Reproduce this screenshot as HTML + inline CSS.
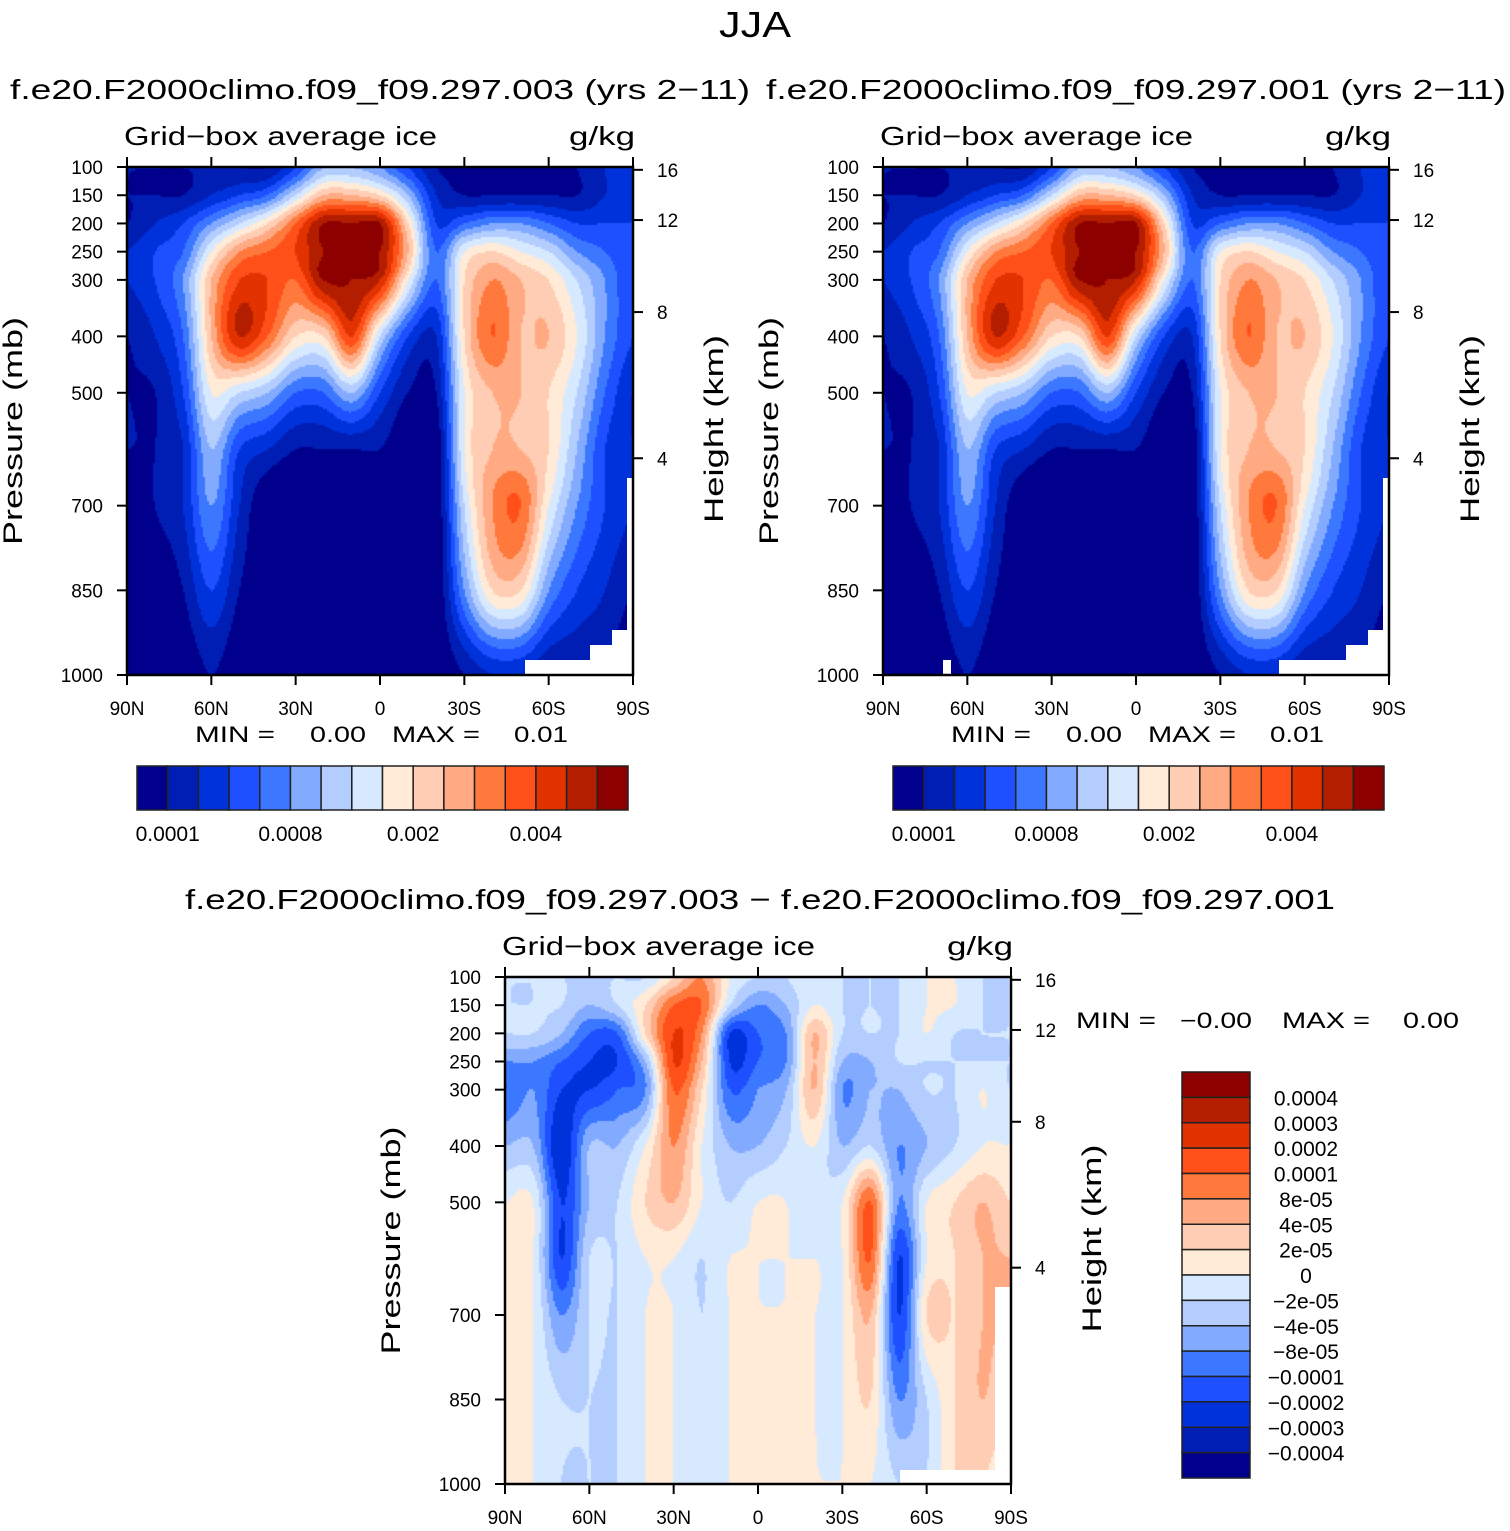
<!DOCTYPE html>
<html><head><meta charset="utf-8">
<style>
html,body{margin:0;padding:0;background:#fff;}
#wrap{position:relative;width:1510px;height:1531px;overflow:hidden;}
canvas{position:absolute;}
svg{position:absolute;left:0;top:0;}
text{font-family:"Liberation Sans","DejaVu Sans",sans-serif;fill:#000;}
</style></head>
<body>
<div id="wrap">
<canvas id="c1" width="506" height="508" style="left:127px;top:167px"></canvas>
<canvas id="c2" width="506" height="508" style="left:883px;top:167px"></canvas>
<canvas id="c3" width="506" height="507" style="left:505px;top:977px"></canvas>
<svg id="s" width="1510" height="1531"></svg>
</div>
<script>
const lats=[90,80,70,60,50,40,30,20,10,0,-10,-20,-30,-40,-50,-60,-70,-80,-90];
const pres=[100,150,200,250,300,400,500,600,700,850,1000];
const field003=[
[1,1,1,1,1,1,3,6,6,5,3,1,1,1,1,1,1,2,3],
[1,1,1,2,3,4,7,10,10,9,6,2,1,1,1,1,1,2,3],
[1,2,3,5,7,9,12,15,15,15,9,3,4,5,5,4,3,3,3],
[2,3,4,8,11,12,13,15,15,15,10,4,8,9,8,7,5,4,3],
[2,3,5,10,13,13,12,15,15,14,8,4,9,11,10,9,7,5,3],
[1,2,4,10,14,12,9,9,13,7,3,2,9,12,10,10,8,5,3],
[1,1,3,8,7,6,4,4,6,3,1,1,8,10,10,9,7,4,2],
[1,1,2,6,3,2,1,1,1,1,0,0,8,10,10,9,6,3,2],
[0,1,2,5,2,0,0,0,0,0,0,0,7,11,12,8,5,3,2],
[0,0,1,3,1,0,0,0,0,0,0,0,5,9,9,5,3,2,1],
[0,0,0,1,0,0,0,0,0,0,0,0,1,2,2,1,1,1,0]];
const field001=[
[1,1,1,1,1,1,3,6,6,5,3,1,1,1,1,1,1,2,3],
[1,1,1,2,3,4,7,10,10,9,6,2,1,1,1,1,1,2,3],
[1,2,3,5,7,9,12,15,15,15,9,3,4,5,5,4,3,3,3],
[2,3,4,8,11,12,13,15,15,15,10,4,8,9,8,7,5,4,3],
[2,3,5,10,13,13,12,15,15,14,8,4,9,11,10,9,7,5,3],
[1,2,4,10,14,12,9,9,13,7,3,2,9,12,10,10,8,5,3],
[1,1,3,8,7,6,4,4,6,3,1,1,8,10,10,9,7,4,2],
[1,1,2,6,3,2,1,1,1,1,0,0,8,10,10,9,6,3,2],
[0,1,2,5,2,0,0,0,0,0,0,0,7,11,12,8,5,3,2],
[0,0,1,3,1,0,0,0,0,0,0,0,5,9,9,5,3,2,1],
[0,0,0,1,0,0,0,0,0,0,0,0,1,2,2,1,1,1,0]];
const fieldDiff=[
[7,7,7,7,7,7,9,11,8,7,7,8,7,7,7,8,8,7,7],
[7,7,7,6,7,9,12,12,7,5,6,8,7,7,7,8,8,7,7],
[7,7,6,4,4,9,13,11,3,4,5,10,7,7,7,8,7,7,7],
[5,5,4,3,3,6,13,10,3,4,5,10,6,6,7,7,7,7,7],
[4,5,3,3,4,5,12,9,4,5,6,10,5,6,6,7,7,8,7],
[6,6,2,6,6,8,11,8,6,6,7,8,6,7,5,6,7,8,8],
[8,8,3,6,7,9,10,8,7,8,8,7,8,12,5,8,9,10,9],
[8,8,3,7,7,8,8,7,8,8,8,8,8,12,3,8,9,10,10],
[8,8,5,7,7,8,8,7,8,8,8,8,8,10,3,9,9,10,10],
[8,8,7,7,7,8,8,7,8,8,8,8,8,9,5,7,9,10,9],
[8,8,7,7,7,8,8,7,8,8,8,8,8,8,7,7,9,9,8]];
const palette=["#00008c","#001eb4","#0032dc","#1e50ff","#3c78ff","#82aaff","#b4cdff","#d7e9ff","#ffebd7","#ffcdb4","#ffaa82","#ff783c","#ff5019","#e13200","#b41e00","#8c0000"];
const pTicks=[100,150,200,250,300,400,500,700,850,1000];
const hTicks=[16,12,8,4];
const hTickP=[105,194,357,616];
const latTicks=[90,60,30,0,-30,-60,-90];
const latLabels=["90N","60N","30N","0","30S","60S","90S"];
const cbLabelsTop=["0.0001","0.0008","0.002","0.004"];
const cbLabelsDiff=["0.0004","0.0003","0.0002","0.0001","8e-05","4e-05","2e-05","0","\u22122e-05","\u22124e-05","\u22128e-05","\u22120.0001","\u22120.0002","\u22120.0003","\u22120.0004"];

function cr(p0,p1,p2,p3,t){return 0.5*((2*p1)+(-p0+p2)*t+(2*p0-5*p1+4*p2-p3)*t*t+(-p0+3*p1-3*p2+p3)*t*t*t);}
function sample(g,lat,p){
  const fi=(lats[0]-lat)/(lats[0]-lats[1]);
  let j=0;while(j<pres.length-2&&p>pres[j+1])j++;
  const fj=j+Math.max(0,Math.min(1,(p-pres[j])/(pres[j+1]-pres[j])));
  const i0=Math.floor(fi),j0=Math.floor(fj),tx=fi-i0,ty=fj-j0;
  const ci=k=>Math.max(0,Math.min(lats.length-1,k)),cj=k=>Math.max(0,Math.min(pres.length-1,k));
  const rows=[];
  for(let m=-1;m<=2;m++){const r=g[cj(j0+m)];rows.push(cr(r[ci(i0-1)],r[ci(i0)],r[ci(i0+1)],r[ci(i0+2)],tx));}
  return cr(rows[0],rows[1],rows[2],rows[3],ty);
}
function drawField(id,g,W,H){
  const ctx=document.getElementById(id).getContext('2d');const s=2;
  for(let y=0;y<H;y+=s){const p=100+(y+1)/H*900;
    for(let x=0;x<W;x+=s){const lat=90-(x+1)/W*180;
      let v=Math.floor(sample(g,lat,p)+0.001);v=Math.max(0,Math.min(15,v));
      ctx.fillStyle=palette[v];ctx.fillRect(x,y,s,s);}}
}
drawField('c1',field003,506,508);
drawField('c2',field001,506,508);
drawField('c3',fieldDiff,506,507);

const S=document.getElementById('s');const NS="http://www.w3.org/2000/svg";
function el(t,a,txt){const e=document.createElementNS(NS,t);for(const k in a)e.setAttribute(k,a[k]);if(txt!==undefined)e.textContent=txt;S.appendChild(e);return e;}
function txt(x,y,s,size,anchor,name,len,rot){
  const a={x:x,y:y,'font-size':size,'text-anchor':anchor||'start'};
  if(len){a.textLength=len;a.lengthAdjust='spacingAndGlyphs';}
  if(rot)a.transform='rotate(-90 '+x+' '+y+')';
  const e=el('text',a,s);
  
  
  return e;
}
function panel(x0,y0,h,tag,mask){
  const W=506;
  mask.forEach(m=>{const r=el('rect',{x:x0+m[0],y:y0+m[1],width:m[2],height:m[3],fill:'#fff'});
    });
  const f=el('rect',{x:x0,y:y0,width:W,height:h,fill:'none',stroke:'#000','stroke-width':2.5});
  
  pTicks.forEach(p=>{const y=y0+(p-100)/900*h;
    el('line',{x1:x0-10,y1:y,x2:x0,y2:y,stroke:'#000','stroke-width':2});
    txt(x0-24,y+7,p,19,'end',tag+'-pressure-tick');});
  hTicks.forEach((v,i)=>{const y=y0+(hTickP[i]-100)/900*h;
    el('line',{x1:x0+W,y1:y,x2:x0+W+10,y2:y,stroke:'#000','stroke-width':2});
    txt(x0+W+24,y+7,v,19,'start',tag+'-height-tick');});
  latTicks.forEach((l,i)=>{const x=x0+(90-l)/180*W;
    el('line',{x1:x,y1:y0+h,x2:x,y2:y0+h+10,stroke:'#000','stroke-width':2});
    el('line',{x1:x,y1:y0,x2:x,y2:y0-10,stroke:'#000','stroke-width':2});
    txt(x,y0+h+40,latLabels[i],19,'middle',tag+'-lat-tick');});
  txt(x0-3,y0-22,"Grid\u2212box average ice",26,'start',tag+'-variable-name',313);
  txt(x0+W+2,y0-22,"g/kg",26,'end',tag+'-units',66);
  txt(x0-105,y0+h/2+10,"Pressure (mb)",27,'middle',tag+'-y-axis-title',228,true);
  txt(x0+W+90,y0+h/2+8,"Height (km)",27,'middle',tag+'-y2-axis-title',188,true);
}
txt(755,37,"JJA",36,'middle','figure-title',72);
txt(10,99,"f.e20.F2000climo.f09_f09.297.003 (yrs 2\u221211)",28,'start','left-panel-title',740);
txt(766,99,"f.e20.F2000climo.f09_f09.297.001 (yrs 2\u221211)",28,'start','right-panel-title',740);
txt(185,909,"f.e20.F2000climo.f09_f09.297.003 \u2212 f.e20.F2000climo.f09_f09.297.001",28,'start','diff-panel-title',1150);
panel(127,167,508,'left',[[398,493,108,15],[463,478,43,30],[485,463,21,45],[500,311,6,200]]);
panel(883,167,508,'right',[[396,493,110,15],[463,478,43,30],[485,463,21,45],[500,311,6,200],[60,493,8,15]]);
panel(505,977,507,'diff',[[395,493,111,14],[490,310,16,197]]);
[[127,'left'],[883,'right']].forEach(([x0,t])=>{
  txt(x0+68,742,"MIN =",22,'start',t+'-min-label',80);
  txt(x0+183,742,"0.00",22,'start',t+'-min-value',56);
  txt(x0+265,742,"MAX =",22,'start',t+'-max-label',88);
  txt(x0+387,742,"0.01",22,'start',t+'-max-value',54);
  const cx=x0+10,cw=491/16;
  palette.forEach((c,i)=>{const r=el('rect',{x:cx+i*cw,y:766,width:cw,height:44,fill:c,stroke:'#222','stroke-width':1.5});
    });
  cbLabelsTop.forEach((s,i)=>txt(cx+cw*(1+4*i),841,s,21,'middle',t+'-colorbar-label'));
});
txt(1076,1028,"MIN =",22,'start','diff-min-label',80);
txt(1180,1028,"\u22120.00",22,'start','diff-min-value',72);
txt(1282,1028,"MAX =",22,'start','diff-max-label',88);
txt(1403,1028,"0.00",22,'start','diff-max-value',56);
const ch=406/16;
palette.slice().reverse().forEach((c,i)=>{const r=el('rect',{x:1182,y:1072+i*ch,width:68,height:ch,fill:c,stroke:'#222','stroke-width':1.5});
  });
cbLabelsDiff.forEach((s,i)=>txt(1306,1072+ch*(i+1)+8,s,21,'middle','diff-colorbar-label'));
</script>
</body></html>
